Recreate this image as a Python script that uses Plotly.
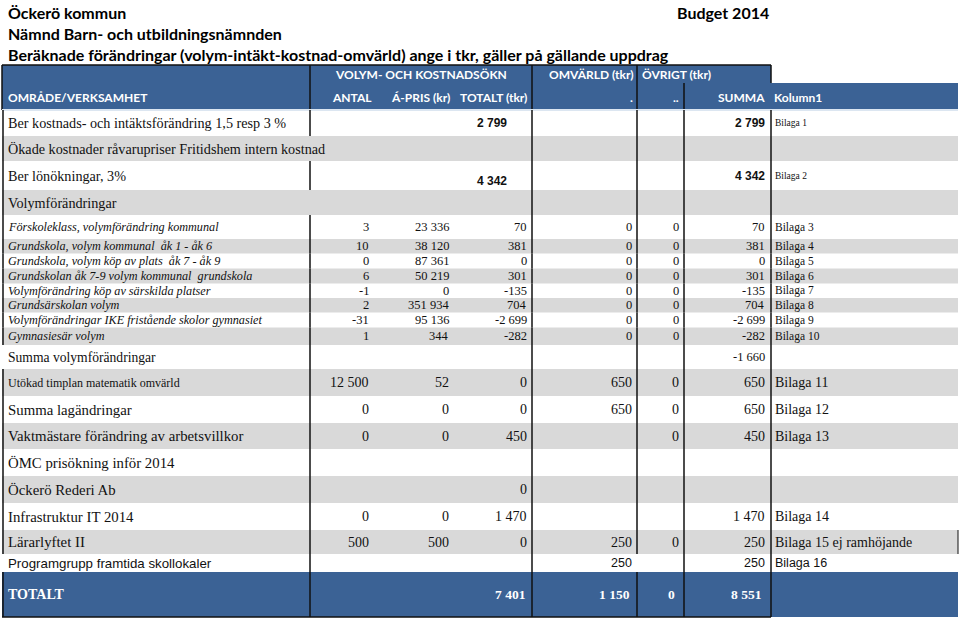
import plotly.graph_objects as go

# ---- data ----
title_lines = [
    "Öckerö kommun",
    "Nämnd Barn- och utbildningsnämnden",
    "Beräknade förändringar (volym-intäkt-kostnad-omvärld) ange i tkr, gäller på gällande uppdrag",
]
budget_label = "Budget 2014"

header_top = ["VOLYM- OCH KOSTNADSÖKN", "OMVÄRLD (tkr)", "ÖVRIGT (tkr)"]
header_cols = ["OMRÅDE/VERKSAMHET", "ANTAL", "Á-PRIS (kr)", "TOTALT (tkr)", ".", "..", "SUMMA", "Kolumn1"]

row_labels = [
    "Ber kostnads- och intäktsförändring 1,5 resp 3 %",
    "Ökade kostnader råvarupriser Fritidshem intern kostnad",
    "Ber lönökningar, 3%",
    "Volymförändringar",
    "Förskoleklass, volymförändring kommunal",
    "Grundskola, volym kommunal  åk 1 - åk 6",
    "Grundskola, volym köp av plats  åk 7 - åk 9",
    "Grundskolan åk 7-9 volym kommunal  grundskola",
    "Volymförändring köp av särskilda platser",
    "Grundsärskolan volym",
    "Volymförändringar IKE fristående skolor gymnasiet",
    "Gymnasiesär volym",
    "Summa volymförändringar",
    "Utökad timplan matematik omvärld",
    "Summa lagändringar",
    "Vaktmästare förändring av arbetsvillkor",
    "ÖMC prisökning inför 2014",
    "Öckerö Rederi Ab",
    "Infrastruktur IT 2014",
    "Lärarlyftet II",
    "Programgrupp framtida skollokaler",
    "TOTALT",
]
antal = ["", "", "", "", "3", "10", "0", "6", "-1", "2", "-31", "1",
         "", "12 500", "0", "0", "", "", "0", "500", "", ""]
a_pris = ["", "", "", "", "23 336", "38 120", "87 361", "50 219", "0", "351 934", "95 136", "344",
          "", "52", "0", "0", "", "", "0", "500", "", ""]
totalt = ["2 799", "", "4 342", "", "70", "381", "0", "301", "-135", "704", "-2 699", "-282",
          "", "0", "0", "450", "", "0", "1 470", "0", "", "7 401"]
omvarld = ["", "", "", "", "0", "0", "0", "0", "0", "0", "0", "0",
           "", "650", "650", "", "", "", "", "250", "250", "1 150"]
ovrigt = ["", "", "", "", "0", "0", "0", "0", "0", "0", "0", "0",
          "", "0", "0", "0", "", "", "", "0", "", "0"]
summa = ["2 799", "", "4 342", "", "70", "381", "0", "301", "-135", "704", "-2 699", "-282",
         "-1 660", "650", "650", "450", "", "", "1 470", "250", "250", "8 551"]
bilaga = ["Bilaga 1", "", "Bilaga 2", "", "Bilaga 3", "Bilaga 4", "Bilaga 5", "Bilaga 6",
          "Bilaga 7", "Bilaga 8", "Bilaga 9", "Bilaga 10", "", "Bilaga 11", "Bilaga 12",
          "Bilaga 13", "", "", "Bilaga 14", "Bilaga 15 ej ramhöjande", "Bilaga 16", ""]

# ---- layout / styles ----
BLUE = "#3b6295"
GREY = "#d9d9d9"
INK = "#111111"
SERIF = "Liberation Serif"
SANS = "Liberation Sans"
HEAD = "Lato"

row_heights = [26, 25, 29, 25, 24, 14.5, 15, 15, 14.5, 14.5, 15, 17.5,
               24, 27, 27, 26, 27, 27, 27, 24, 18, 45]
row_style = ["A", "A", "A", "A", "S", "S", "S", "S", "S", "S", "S", "S",
             "M", "T", "L", "L", "L", "L", "L", "L", "P", "X"]
grey_rows = {1, 3, 5, 7, 9, 11, 13, 15, 17, 19}

styles = {
    "A": dict(lab=dict(family=SERIF, size=14.2), val=dict(family=SANS, size=12, weight="bold"),
              bil=dict(family=SERIF, size=9.5)),
    "S": dict(lab=dict(family=SERIF, size=12.2, style="italic"), val=dict(family=SERIF, size=12.5),
              bil=dict(family=SERIF, size=11.5)),
    "M": dict(lab=dict(family=SERIF, size=13.6), val=dict(family=SERIF, size=12.5),
              bil=dict(family=SERIF, size=12.5)),
    "T": dict(lab=dict(family=SERIF, size=12), val=dict(family=SERIF, size=14),
              bil=dict(family=SERIF, size=14)),
    "L": dict(lab=dict(family=SERIF, size=14.8), val=dict(family=SERIF, size=14),
              bil=dict(family=SERIF, size=14)),
    "P": dict(lab=dict(family=SANS, size=13.3), val=dict(family=SANS, size=12.5),
              bil=dict(family=SANS, size=12.5)),
    "X": dict(lab=dict(family=SERIF, size=14, weight="bold", color="white"),
              val=dict(family=SERIF, size=13.5, weight="bold", color="white"),
              bil=dict(family=SERIF, size=13)),
}

col_right = {"antal": 371, "apris": 451, "totalt": 529, "omv": 634, "ovr": 681, "summa": 767}
col_override = {"A": {"totalt": 509}, "X": {"totalt": 528, "omv": 632, "ovr": 677, "summa": 764}}
TOP = 110

fig = go.Figure()
shapes = []
ann = []


def text(x, y, s, font, anchor="left"):
    f = dict(color=INK)
    f.update(font)
    ann.append(dict(x=x, y=y, xref="x", yref="y", text=s, showarrow=False,
                    xanchor=anchor, yanchor="middle", font=f))


def rect(x0, y0, x1, y1, color):
    shapes.append(dict(type="rect", xref="x", yref="y", x0=x0, y0=y0, x1=x1, y1=y1,
                       fillcolor=color, line=dict(width=0), layer="below"))


def line(x0, y0, x1, y1, color="#111111", width=1.5):
    shapes.append(dict(type="line", xref="x", yref="y", x0=x0, y0=y0, x1=x1, y1=y1,
                       line=dict(color=color, width=width)))


# titles
title_font = dict(family=HEAD, size=16, weight="bold", color="#000000")
for i, t in enumerate(title_lines):
    text(6, 12 + i * 21, t, title_font)
text(675, 12, budget_label, title_font)

# header block
rect(2, 65, 771, 83, BLUE)
rect(2, 83, 958, 110, BLUE)
hfont = dict(family=HEAD, size=12, weight="bold", color="white")
text(421, 74, header_top[0], hfont, "center")
text(635, 74, header_top[1], hfont, "right")
text(640, 74, header_top[2], hfont)
hx = [(6, "left"), (374, "right"), (452, "right"), (529, "right"), (635, "right"),
      (681, "right"), (767, "right"), (772, "left")]
for (x, a), s in zip(hx, header_cols):
    text(x, 97, s, hfont, a)
line(2, 65, 771, 65)
for x in (310, 532, 637):
    line(x, 65, x, 110)
line(684, 83, 684, 110)
line(771, 65, 771, 83)
line(2, 65, 2, 110)
line(2, 110, 958, 110, "#dce6f1", 2)

# body rows
y = TOP
for i, h in enumerate(row_heights):
    y0, y1 = y, y + h
    yc = (y0 + y1) / 2
    st = styles[row_style[i]]
    if i in grey_rows:
        rect(2, y0, 958, y1, GREY)
    if row_style[i] == "X":
        rect(2, y0, 958, y1, BLUE)
    # vertical rules
    xs = [3, 310, 532, 637, 684, 771]
    if i in (1, 3):
        xs.remove(310)
    if i in (12, 20):
        xs.remove(3)
    if i == 20:
        xs.remove(637)
    for x in xs:
        line(x, y0, x, y1)
    # texts
    text(6, yc, row_labels[i], st["lab"])
    cr = dict(col_right)
    cr.update(col_override.get(row_style[i], {}))
    for key, vals in (("antal", antal), ("apris", a_pris), ("totalt", totalt),
                      ("omv", omvarld), ("ovr", ovrigt), ("summa", summa)):
        if vals[i]:
            # the TOTALT cell of row 3 sits at the bottom of its cell
            yy = yc + 5 if (i == 2 and key == "totalt") else yc
            text(cr[key], yy, vals[i], st["val"], "right")
    if bilaga[i]:
        text(773, yc, bilaga[i], st["bil"])
    y = y1

line(2, y, 771, y)
line(958, TOP + sum(row_heights[:19]), 958, TOP + sum(row_heights[:20]), "#111111", 1)

fig.update_layout(
    width=960, height=621,
    margin=dict(l=0, r=0, t=0, b=0),
    paper_bgcolor="white", plot_bgcolor="white",
    xaxis=dict(range=[0, 960], visible=False, fixedrange=True),
    yaxis=dict(range=[621, 0], visible=False, fixedrange=True),
    shapes=shapes, annotations=ann, showlegend=False,
)
fig.write_html("out.html", config={"displayModeBar": False},
               post_script="document.body.style.margin='0';")
